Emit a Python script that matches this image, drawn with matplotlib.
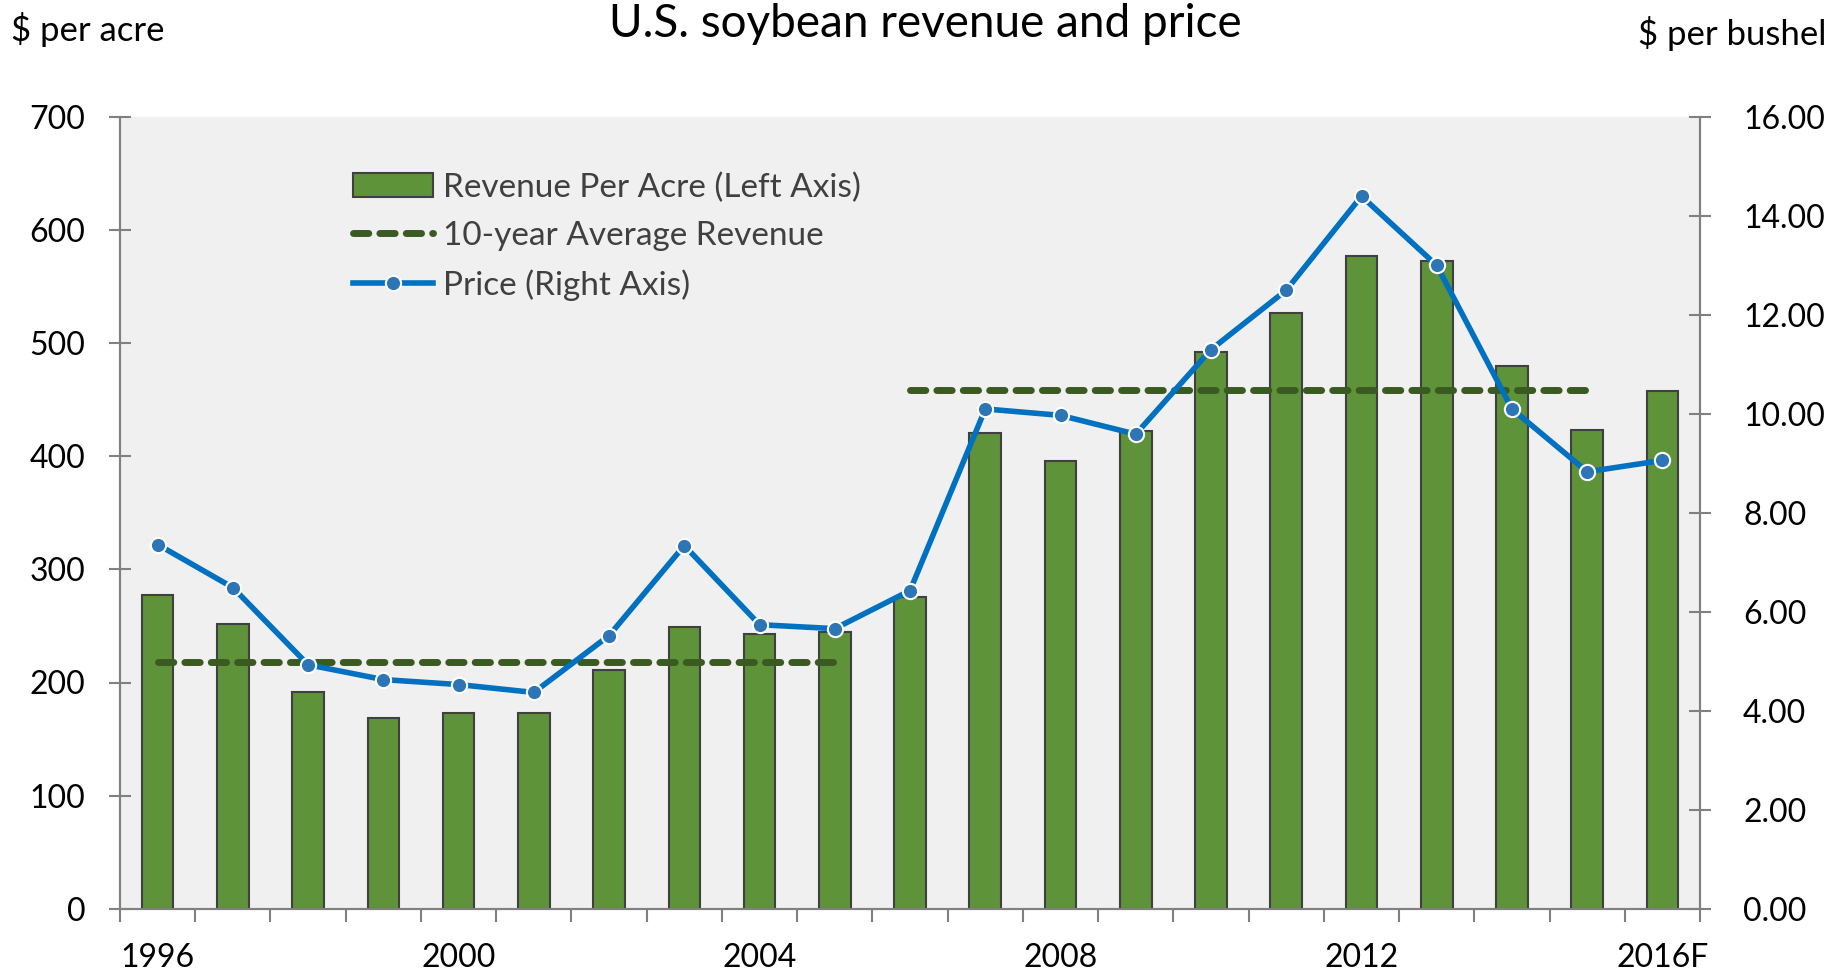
import numpy as np
import matplotlib.pyplot as plt
from matplotlib.lines import Line2D
from matplotlib.patches import Patch

plt.rcParams['font.family'] = ['Lato', 'DejaVu Sans']

years = ['1996', '1997', '1998', '1999', '2000', '2001', '2002', '2003', '2004', '2005',
         '2006', '2007', '2008', '2009', '2010', '2011', '2012', '2013', '2014', '2015', '2016F']
revenue = [277, 252, 192, 169, 173, 173, 211, 249, 243, 245,
           276, 421, 396, 422, 492, 527, 577, 573, 480, 423, 458]
price = [7.36, 6.49, 4.93, 4.63, 4.53, 4.37, 5.52, 7.34, 5.74, 5.66,
         6.43, 10.10, 9.97, 9.59, 11.30, 12.50, 14.40, 13.00, 10.10, 8.83, 9.06]
# 10-year averages: (first year index, last year index, value)
avg_periods = [(0, 9, 218), (10, 19, 459)]
label_years = ['1996', '2000', '2004', '2008', '2012', '2016F']

bar_green = '#5E9339'
dash_green = '#3A5A22'
blue = '#0070C0'
grey = '#808080'

fig = plt.figure(figsize=(18.32, 9.75), dpi=100)
ax = fig.add_axes([0.0655, 0.068, 0.8625, 0.812])
ax.set_facecolor('#F0F0F0')
x = np.arange(len(years))

ax.bar(x, revenue, width=0.42, color=bar_green, edgecolor='#404040', linewidth=1.5, zorder=2)
for i0, i1, v in avg_periods:
    ax.plot([x[i0], x[i1]], [v, v], color=dash_green, lw=5, ls=(0, (2.2, 1.6)),
            dash_capstyle='round', zorder=3)

ax.set_xlim(-0.5, len(years) - 0.5)
ax.set_ylim(0, 700)
ax.set_yticks(np.arange(0, 701, 100))

ax2 = ax.twinx()
ax2.plot(x, price, color=blue, lw=4, marker='o', ms=11, mfc='#2E75B6', mec='white', mew=1.5, zorder=4)
ax2.set_ylim(0, 16)
ax2.set_yticks(np.arange(0, 16.1, 2))
ax2.set_yticklabels([f'{v:.2f}' for v in np.arange(0, 16.1, 2)])

# x ticks: marks at category boundaries, labels at every 4th year
ax.set_xticks(np.arange(-0.5, len(years), 1))
ax.set_xticklabels([])
ax.set_xticks([years.index(y) for y in label_years], minor=True)
ax.set_xticklabels(label_years, minor=True)
ax.tick_params(axis='x', which='major', length=9, width=1.5, color=grey, direction='out')
ax.tick_params(axis='x', which='minor', length=0, pad=25, labelsize=23)

ax.tick_params(axis='y', length=16, width=1.5, color=grey, direction='inout', labelsize=23, pad=17)
ax2.tick_params(axis='y', length=16, width=1.5, color=grey, direction='inout', labelsize=23, pad=23)

for a in (ax, ax2):
    a.spines['top'].set_visible(False)
    for s in ('left', 'right', 'bottom'):
        a.spines[s].set_color(grey)
        a.spines[s].set_linewidth(1.5)

fig.text(0.006, 0.970, '$ per acre', fontsize=25, va='center', ha='left')
fig.text(0.997, 0.966, '$ per bushel', fontsize=25, va='center', ha='right')
fig.text(0.505, 0.975, 'U.S. soybean revenue and price', fontsize=33, va='center', ha='center')

handles = [
    Patch(facecolor=bar_green, edgecolor='#404040', linewidth=1.5),
    Line2D([0], [0], color=dash_green, lw=5, ls=(0, (2.2, 1.6)), dash_capstyle='round'),
    Line2D([0], [0], color=blue, lw=4, marker='o', ms=11, mfc='#2E75B6', mec='white', mew=1.5),
]
labels = ['Revenue Per Acre (Left Axis)', '10-year Average Revenue', 'Price (Right Axis)']
ax2.legend(handles, labels, loc='upper left', bbox_to_anchor=(0.139, 0.947), frameon=False,
           fontsize=24, labelcolor='#404040', handlelength=2.4, handletextpad=0.3,
           labelspacing=0.55, borderaxespad=0)

fig.savefig('out.png', dpi=100)
